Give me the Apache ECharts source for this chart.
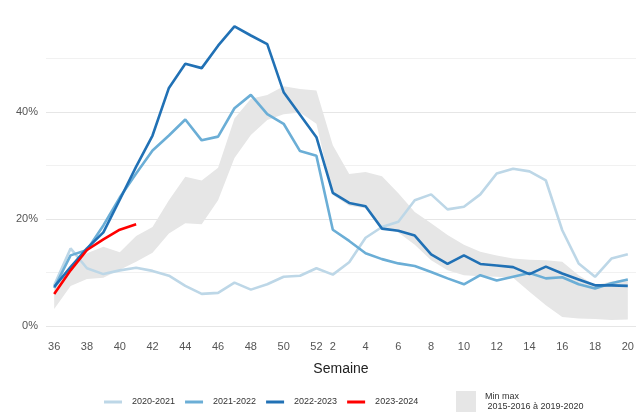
<!DOCTYPE html>
<html>
<head>
<meta charset="utf-8">
<script src="https://cdn.jsdelivr.net/npm/echarts@6/dist/echarts.min.js"></script>
<style>
html,body{margin:0;padding:0;background:#fff;}
#chart{width:642px;height:412px;}
</style>
</head>
<body>
<div id="chart"></div>
<script>
// Week labels (x categories)
const weeks = ['36','37','38','39','40','41','42','43','44','45','46','47','48','49','50','51','52',
  '2','3','4','5','6','7','8','9','10','11','12','13','14','15','16','17','18','19','20'];

const season2020 = [7.6,14.5,10.8,9.7,10.4,10.9,10.3,9.4,7.5,6.0,6.2,8.1,6.8,7.8,9.2,9.4,10.8,
  9.6,11.9,16.5,18.5,19.5,23.5,24.6,21.8,22.3,24.6,28.5,29.4,28.9,27.2,17.9,11.7,9.2,12.6,13.4];
const season2021 = [7.1,13.2,14.2,18.8,24.0,28.5,32.8,35.6,38.6,34.7,35.4,40.7,43.2,39.6,37.8,32.7,31.8,
  18.0,15.9,13.6,12.5,11.7,11.2,10.1,8.9,7.8,9.5,8.5,9.2,9.9,8.9,9.1,7.8,7.0,8.0,8.7];
const season2022 = [7.3,11.0,14.5,17.5,23.6,29.8,35.6,44.5,49.0,48.2,52.4,56.0,54.3,52.7,43.7,39.5,35.3,
  24.9,23.0,22.4,18.2,17.8,16.9,13.4,11.6,13.2,11.6,11.3,11.0,9.7,11.1,9.8,8.7,7.6,7.6,7.5];
const season2023 = [6.0,10.4,14.2,16.2,18.0,19.0];

const bandMin = [3.2,7.5,8.8,9.0,10.5,12.0,13.7,17.3,19.2,19.0,23.5,31.4,35.7,38.5,39.6,39.9,37.8,
  24.5,22.5,22.0,18.5,17.5,15.2,12.3,10.4,9.5,9.3,9.2,9.0,6.4,3.9,1.7,1.4,1.3,1.1,1.2];
const bandMax = [7.4,11.5,13.6,14.8,13.8,16.8,18.5,23.5,27.9,27.2,29.6,38.8,42.5,43.2,44.8,44.3,44.0,
  33.8,28.4,28.8,28.0,24.8,21.3,19.2,17.0,15.2,13.9,13.2,12.6,12.4,12.3,12.0,9.5,7.6,8.3,8.9];

const yTickLabels = ['0%','20%','40%'];

const seasonNames = ['2020-2021','2021-2022','2022-2023','2023-2024'];
const seasonColors = ['#bdd7e7','#6baed6','#2171b5','#ff0000'];
const bandName = 'Min max';
const bandLabel = 'Min max\n 2015-2016 à 2019-2020';

const chart = echarts.init(document.getElementById('chart'), null, {renderer:'canvas'});
const bandDiff = bandMax.map((v,i)=> +(v - bandMin[i]).toFixed(2));
const seasonData = [season2020, season2021, season2022, season2023];

const lineSeries = seasonNames.map((n,i)=>({
  name: n, type:'line', data: seasonData[i], symbol:'none', z: 3+i,
  lineStyle:{color: seasonColors[i], width: 2.6}, itemStyle:{color: seasonColors[i]}
}));

chart.setOption({
  animation:false,
  textStyle:{fontFamily:'Liberation Sans, Arial, sans-serif'},
  grid:{left:46, right:6, top:5, bottom:86},
  xAxis:{
    type:'category', data: weeks, boundaryGap:true,
    axisLine:{show:false}, axisTick:{show:false},
    axisLabel:{
      interval: (idx, val)=> (+val) % 2 === 0,
      color:'#555', fontSize:11, margin:15
    },
    splitLine:{show:false},
    name:'Semaine', nameLocation:'middle', nameGap:36,
    nameTextStyle:{fontSize:14, color:'#222'}
  },
  yAxis:{
    type:'value', min:0, max:60, interval:10,
    axisLine:{show:false}, axisTick:{show:false},
    axisLabel:{formatter:(v)=> yTickLabels.includes(v + '%') ? v + '%' : '', color:'#555', fontSize:11, margin:8},
    splitLine:{show:true, showMaxLine:false, lineStyle:{color:['#e6e6e6','#f1f1f1'], width:1}}
  },
  legend:[
    {
      data: seasonNames, left:104, top:396, padding:0, icon:'rect', itemWidth:18, itemHeight:3, itemGap:10,
      textStyle:{fontSize:9, color:'#333', lineHeight:12, padding:[0,0,0,5]}
    },
    {
      data:[bandName], left:456, top:391, padding:0, icon:'rect', itemWidth:20, itemHeight:21,
      formatter: ()=> bandLabel,
      textStyle:{fontSize:9, color:'#333', lineHeight:10, padding:[0,0,0,4]}
    }
  ],
  series:[
    {name:'bandLow', type:'line', stack:'band', data: bandMin, symbol:'none',
     lineStyle:{opacity:0}, z:1, silent:true},
    {name: bandName, type:'line', stack:'band', data: bandDiff, symbol:'none',
     lineStyle:{opacity:0}, areaStyle:{color:'#e6e6e6', opacity:1},
     itemStyle:{color:'#e6e6e6'}, z:1, silent:true},
    ...lineSeries
  ]
});
</script>
</body>
</html>
